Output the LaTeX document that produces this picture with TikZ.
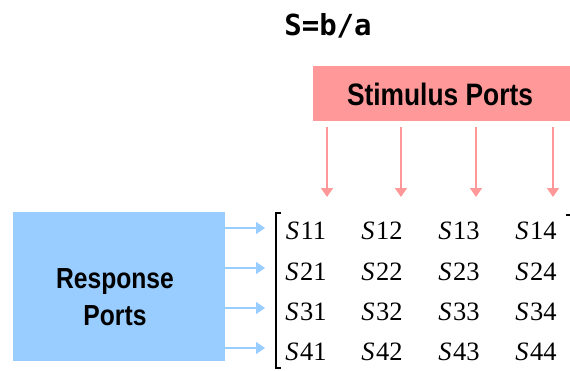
\documentclass[tikz,border=0pt]{standalone}
\usepackage{fontspec}
\setmainfont{Liberation Serif}
\newfontfamily\portfont[FakeStretch=0.85]{Liberation Sans}
\newfontfamily\titlefont{DejaVu Sans Mono}
\usetikzlibrary{positioning,arrows.meta,calc}
\definecolor{stimred}{HTML}{FF9999}
\definecolor{respblue}{HTML}{99CCFF}
\tikzset{%
  port/.style    = { fill = #1, draw = none, inner sep = 0pt },
  porttext/.style = { font = \portfont\bfseries, align = center, inner sep = 0pt },
  arrow/.style   = { -{Triangle[width = 12pt, length = 9pt]}, line width = 1.5pt,
                     draw = #1, fill = #1 },
  entry/.style   = { font = \fontsize{26.5}{30}\selectfont, inner sep = 0pt },
  bracket/.style = { line width = 1.2pt, draw = black }
}

\begin{document}
\begin{tikzpicture}[x=1pt, y=-1pt]
  \useasboundingbox (0,0) rectangle (570,370);
  % title
  \node(title) at (328,26) {\titlefont\bfseries\fontsize{29}{34}\selectfont S=b/a};
  % port boxes
  \node(stim)[port=stimred, minimum width = 257pt, minimum height = 55pt] at (441.5,93.5) {};
  \node(stimtext)[porttext, font = \portfont\bfseries\fontsize{31}{36}\selectfont] at (440,94) {Stimulus Ports};
  \node(resp)[port=respblue, minimum width = 212pt, minimum height = 149pt] at (119,286.5) {};
  \node(resptext)[porttext, font = \portfont\bfseries\fontsize{29}{37}\selectfont] at ($(resp.center)+(-4,11)$) {Response\\Ports};
  % S-matrix entries
  \foreach \r/\y in {1/231, 2/272, 3/312, 4/352}
    \foreach \c/\x in {1/306, 2/382, 3/459, 4/536}
      \node(s\r\c)[entry] at (\x,\y) {\textit{S}\kern1.5pt\r\c};
  % brackets
  \coordinate (lbtop) at (276,213);
  \coordinate (lbbot) at (276,368);
  \coordinate (rbtop) at (571,215);
  \draw[bracket] ($(lbtop)+(5,0)$) -- (lbtop) -- (lbbot) -- ($(lbbot)+(5,0)$);
  \draw[bracket] ($(rbtop)+(-5,0)$) -- (rbtop) -- ++(0,160);
  % stimulus arrows
  \foreach \c/\x in {1/327, 2/401, 3/476, 4/553} {
    \coordinate (stim\c) at (\x,127);
    \coordinate (tip\c) at (\x,197);
    \draw[arrow=stimred] (stim\c) -- (tip\c);
  }
  % response arrows
  \foreach \r/\y in {1/228, 2/268, 3/308, 4/348} {
    \coordinate (in\r) at (265,\y);
    \draw[arrow=respblue] (resp.east |- in\r) -- (in\r);
  }
\end{tikzpicture}
\end{document}
